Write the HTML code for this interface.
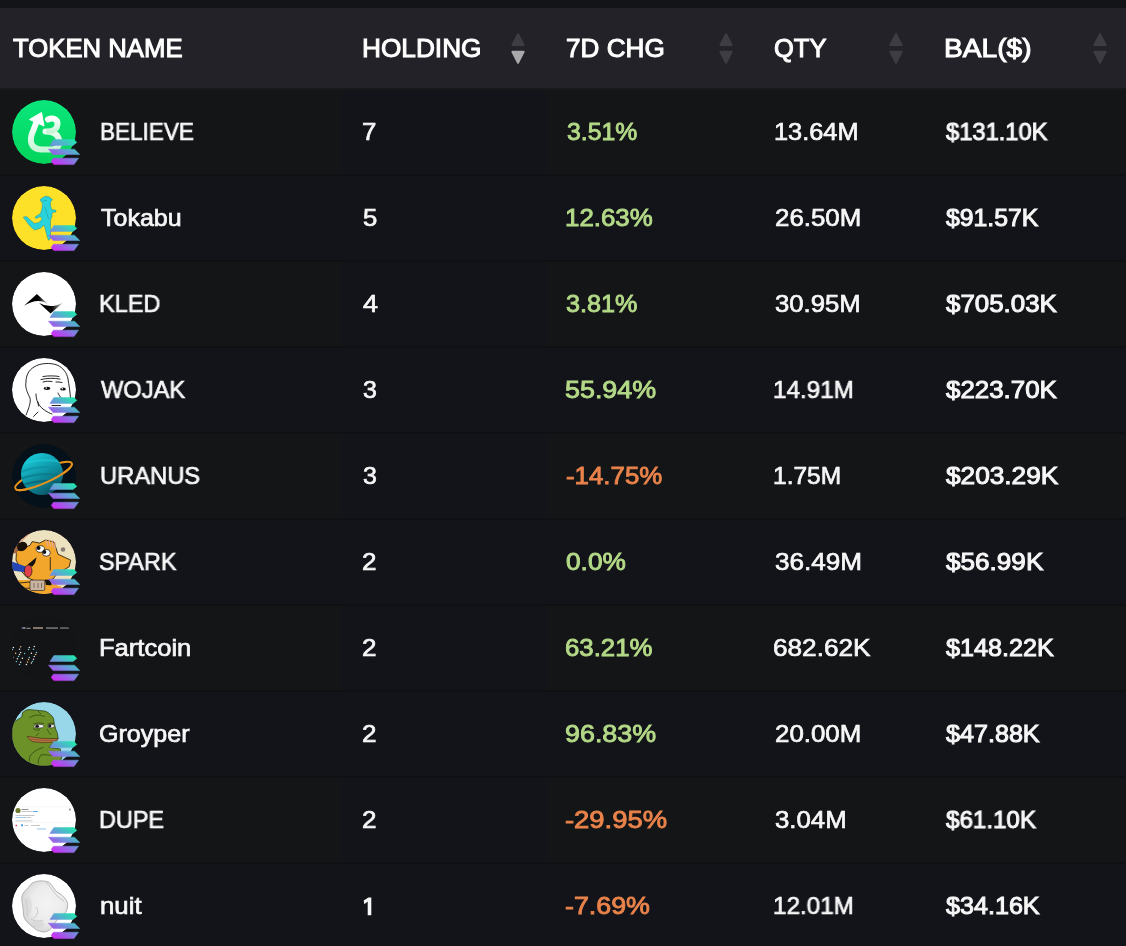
<!DOCTYPE html><html><head><meta charset="utf-8"><style>
html,body{margin:0;padding:0;}
body{width:1126px;height:946px;overflow:hidden;background:#131418;position:relative;font-family:"Liberation Sans",sans-serif;}
.hdr{position:absolute;left:0;top:8px;width:1126px;height:80px;background:#232228;}
.row{position:absolute;left:0;width:1126px;height:84px;border-top:2px solid #0f1013;background:#141517;}
.c2{position:absolute;left:342px;top:0;width:204px;height:84px;background:#131419;}
.c3{display:none;}
.t{position:absolute;white-space:nowrap;line-height:30px;transform-origin:0 0;will-change:transform;}
.ico{position:absolute;left:12px;width:72px;height:72px;overflow:visible;}
.sol{position:absolute;}
.sort{position:absolute;width:14px;}
</style></head><body>
<div class="hdr"></div>
<div class="t" style="left:12.77px;top:33.4px;font-size:25.5px;font-weight:400;color:#ffffff;transform:scaleX(1.0087);-webkit-text-stroke:1.0px #ffffff;" id="hTOKEN">TOKEN NAME</div>
<div class="t" style="left:361.93px;top:33.4px;font-size:25.5px;font-weight:400;color:#ffffff;transform:scaleX(1.0285);-webkit-text-stroke:1.0px #ffffff;" id="hHOLD">HOLDING</div>
<div class="t" style="left:566.45px;top:33.4px;font-size:25.5px;font-weight:400;color:#ffffff;transform:scaleX(1.0249);-webkit-text-stroke:1.0px #ffffff;" id="h7D">7D CHG</div>
<div class="t" style="left:774.0px;top:33.4px;font-size:25.5px;font-weight:400;color:#ffffff;transform:scaleX(0.9921);-webkit-text-stroke:1.0px #ffffff;" id="hQTY">QTY</div>
<div class="t" style="left:943.71px;top:33.4px;font-size:25.5px;font-weight:400;color:#ffffff;transform:scaleX(1.1038);-webkit-text-stroke:1.0px #ffffff;" id="hBAL">BAL($)</div>
<svg class="sort" style="left:511px;top:32px" width="14" height="34" viewBox="0 0 14 34"><path d="M7 2.2 L12.6 13 L1.4 13 Z" fill="#3e3d43" stroke="#3e3d43" stroke-width="2" stroke-linejoin="round"/><path d="M1.4 19.8 L12.6 19.8 L7 30.8 Z" fill="#a9a9ac" stroke="#a9a9ac" stroke-width="2" stroke-linejoin="round"/></svg>
<svg class="sort" style="left:719px;top:32px" width="14" height="34" viewBox="0 0 14 34"><path d="M7 2.2 L12.6 13 L1.4 13 Z" fill="#3e3d43" stroke="#3e3d43" stroke-width="2" stroke-linejoin="round"/><path d="M1.4 19.8 L12.6 19.8 L7 30.8 Z" fill="#3e3d43" stroke="#3e3d43" stroke-width="2" stroke-linejoin="round"/></svg>
<svg class="sort" style="left:889px;top:32px" width="14" height="34" viewBox="0 0 14 34"><path d="M7 2.2 L12.6 13 L1.4 13 Z" fill="#3e3d43" stroke="#3e3d43" stroke-width="2" stroke-linejoin="round"/><path d="M1.4 19.8 L12.6 19.8 L7 30.8 Z" fill="#3e3d43" stroke="#3e3d43" stroke-width="2" stroke-linejoin="round"/></svg>
<svg class="sort" style="left:1093px;top:32px" width="14" height="34" viewBox="0 0 14 34"><path d="M7 2.2 L12.6 13 L1.4 13 Z" fill="#3e3d43" stroke="#3e3d43" stroke-width="2" stroke-linejoin="round"/><path d="M1.4 19.8 L12.6 19.8 L7 30.8 Z" fill="#3e3d43" stroke="#3e3d43" stroke-width="2" stroke-linejoin="round"/></svg>
<div class="row" style="top:88px;background:#141517;border-top-color:#19191c"><div class="c2"></div></div>
<svg class="ico" style="top:100px" viewBox="0 0 72 72" width="72" height="72"><defs><clipPath id="cc0"><circle cx="32" cy="32" r="32"/></clipPath></defs><g clip-path="url(#cc0)"><circle cx="32" cy="32" r="32" fill="url(#gB)"/>
<defs><linearGradient id="gB" x1="0" y1="0" x2="0" y2="1"><stop offset="0" stop-color="#0ae67c"/><stop offset="1" stop-color="#03d45c"/></linearGradient>
<linearGradient id="gBw" x1="0" y1="0" x2="0" y2="1"><stop offset="0" stop-color="#ffffff"/><stop offset="1" stop-color="#c8f5d8"/></linearGradient></defs>
<g fill="none" stroke="url(#gBw)" stroke-width="6" stroke-linecap="round" stroke-linejoin="round">
<path d="M24.5 22 L19.5 35 C17 45 22 49.5 30 49.5 L40 49.5 C47 49.5 49 42 46 37 C44 33 40 31.5 33.5 31.5"/>
<path d="M36 19.5 C41 17 46 19.5 45.5 24.5 C45 29 41 31 37 31.5"/>
</g>
<path d="M29.5 12.5 L17.5 19.5 L32 26 Z" fill="#fff" stroke="#fff" stroke-width="1" stroke-linejoin="round"/></g><defs><linearGradient id="sg0" gradientUnits="userSpaceOnUse" x1="65" y1="42" x2="49.2" y2="68.3"><stop offset="0" stop-color="#22e6b0"/><stop offset="0.45" stop-color="#6a98dc"/><stop offset="0.75" stop-color="#a05ae8"/><stop offset="1" stop-color="#d02cf8"/></linearGradient></defs><g fill="url(#sg0)" stroke="url(#sg0)" stroke-width="0.5" stroke-linejoin="round"><path d="M41.9 39.6 L62.1 39.6 L64.8 42.5 L61 45.4 L37.9 45.4 Z"/><path d="M36.4 49.2 L62.5 49.2 L67.8 54.6 L41.1 54.6 Z"/><path d="M41.4 58.2 L66.5 58.2 L62 64.6 L41.9 64.6 L39.2 61.4 Z"/></g></svg>
<div class="t" style="left:100.42px;top:117.1px;font-size:24.5px;font-weight:400;color:#f7f7f8;transform:scaleX(0.9194);-webkit-text-stroke:0.7px #f7f7f8;" id="n0">BELIEVE</div>
<div class="t" style="left:362.46px;top:117.1px;font-size:24.5px;font-weight:400;color:#f7f7f8;transform:scaleX(1.0547);-webkit-text-stroke:0.7px #f7f7f8;" id="h0">7</div>
<div class="t" style="left:566.8px;top:117.1px;font-size:24.5px;font-weight:400;color:#b4da88;transform:scaleX(1.0107);-webkit-text-stroke:0.9px #b4da88;" id="c0">3.51%</div>
<div class="t" style="left:773.67px;top:117.1px;font-size:24.5px;font-weight:400;color:#f7f7f8;transform:scaleX(1.0352);-webkit-text-stroke:0.7px #f7f7f8;" id="q0">13.64M</div>
<div class="t" style="left:945.54px;top:117.1px;font-size:24.5px;font-weight:400;color:#f7f7f8;transform:scaleX(0.9670);-webkit-text-stroke:1.0px #f7f7f8;" id="b0">$131.10K</div>
<div class="row" style="top:174px;background:#131419;"></div>
<svg class="ico" style="top:186px" viewBox="0 0 72 72" width="72" height="72"><defs><clipPath id="cc1"><circle cx="32" cy="32" r="32"/></clipPath></defs><g clip-path="url(#cc1)"><circle cx="32" cy="32" r="32" fill="#fde028"/>
<path d="M33.5 10.2 L37 10.8 L40.5 13.5 L38.5 16 L38.5 19.5 L39.5 23.5 L43.9 24.3 L44 26 L40 26.5 L40 30 L38.5 34 L38.5 42 L38.7 52.5 L36.5 54.3 L35 50 L33 42 L32 39 L28 42.5 L22.5 44 L18 40 L13 33.5 L11.2 31.3 L14.3 30.4 L18 33.8 L22.5 37.5 L27.5 36.2 L30 33 L28.5 30.5 L24 32.5 L23 31 L28.5 27.5 L30 22.5 L30.5 17.5 L28 14 L30 12 Z" fill="#2ad3db" stroke="#1e8f96" stroke-width="0.5" stroke-linejoin="round"/>
<path d="M31 15 L35 14.5 M33 21 L36.5 33" stroke="#1e8f96" stroke-width="0.5" fill="none"/></g><defs><linearGradient id="sg1" gradientUnits="userSpaceOnUse" x1="65" y1="42" x2="49.2" y2="68.3"><stop offset="0" stop-color="#22e6b0"/><stop offset="0.45" stop-color="#6a98dc"/><stop offset="0.75" stop-color="#a05ae8"/><stop offset="1" stop-color="#d02cf8"/></linearGradient></defs><g fill="url(#sg1)" stroke="url(#sg1)" stroke-width="0.5" stroke-linejoin="round"><path d="M41.9 39.6 L62.1 39.6 L64.8 42.5 L61 45.4 L37.9 45.4 Z"/><path d="M36.4 49.2 L62.5 49.2 L67.8 54.6 L41.1 54.6 Z"/><path d="M41.4 58.2 L66.5 58.2 L62 64.6 L41.9 64.6 L39.2 61.4 Z"/></g></svg>
<div class="t" style="left:100.86px;top:203.1px;font-size:24.5px;font-weight:400;color:#f7f7f8;transform:scaleX(1.0203);-webkit-text-stroke:0.7px #f7f7f8;" id="n1">Tokabu</div>
<div class="t" style="left:362.5px;top:203.1px;font-size:24.5px;font-weight:400;color:#f7f7f8;transform:scaleX(1.0491);-webkit-text-stroke:0.7px #f7f7f8;" id="h1">5</div>
<div class="t" style="left:564.88px;top:203.1px;font-size:24.5px;font-weight:400;color:#b4da88;transform:scaleX(1.0555);-webkit-text-stroke:0.9px #b4da88;" id="c1">12.63%</div>
<div class="t" style="left:774.86px;top:203.1px;font-size:24.5px;font-weight:400;color:#f7f7f8;transform:scaleX(1.0554);-webkit-text-stroke:0.7px #f7f7f8;" id="q1">26.50M</div>
<div class="t" style="left:946.04px;top:203.1px;font-size:24.5px;font-weight:400;color:#f7f7f8;transform:scaleX(1.0105);-webkit-text-stroke:1.0px #f7f7f8;" id="b1">$91.57K</div>
<div class="row" style="top:260px;background:#141517;"><div class="c2"></div></div>
<svg class="ico" style="top:272px" viewBox="0 0 72 72" width="72" height="72"><defs><clipPath id="cc2"><circle cx="32" cy="32" r="32"/></clipPath></defs><g clip-path="url(#cc2)"><circle cx="32" cy="32" r="32" fill="#ffffff"/>
<defs><linearGradient id="gK1" gradientUnits="userSpaceOnUse" x1="25" y1="0" x2="37" y2="0"><stop offset="0" stop-color="#000"/><stop offset="0.25" stop-color="#111"/><stop offset="1" stop-color="#e0e0e0"/></linearGradient>
<linearGradient id="gK2" gradientUnits="userSpaceOnUse" x1="38" y1="0" x2="52" y2="0"><stop offset="0" stop-color="#000"/><stop offset="0.2" stop-color="#111"/><stop offset="1" stop-color="#e8e8e8"/></linearGradient></defs>
<path d="M12 33.8 L24.9 22 L36.4 32.4 Q26 25 12 33.8 Z" fill="url(#gK1)"/>
<path d="M27.1 31.1 L38.6 41.5 L51.5 30.2 Q39 37.5 27.1 31.1 Z" fill="url(#gK2)"/></g><defs><linearGradient id="sg2" gradientUnits="userSpaceOnUse" x1="65" y1="42" x2="49.2" y2="68.3"><stop offset="0" stop-color="#22e6b0"/><stop offset="0.45" stop-color="#6a98dc"/><stop offset="0.75" stop-color="#a05ae8"/><stop offset="1" stop-color="#d02cf8"/></linearGradient></defs><g fill="url(#sg2)" stroke="url(#sg2)" stroke-width="0.5" stroke-linejoin="round"><path d="M41.9 39.6 L62.1 39.6 L64.8 42.5 L61 45.4 L37.9 45.4 Z"/><path d="M36.4 49.2 L62.5 49.2 L67.8 54.6 L41.1 54.6 Z"/><path d="M41.4 58.2 L66.5 58.2 L62 64.6 L41.9 64.6 L39.2 61.4 Z"/></g></svg>
<div class="t" style="left:99.35px;top:289.1px;font-size:24.5px;font-weight:400;color:#f7f7f8;transform:scaleX(0.9594);-webkit-text-stroke:0.7px #f7f7f8;" id="n2">KLED</div>
<div class="t" style="left:362.64px;top:289.1px;font-size:24.5px;font-weight:400;color:#f7f7f8;transform:scaleX(1.1009);-webkit-text-stroke:0.7px #f7f7f8;" id="h2">4</div>
<div class="t" style="left:565.79px;top:289.1px;font-size:24.5px;font-weight:400;color:#b4da88;transform:scaleX(1.0269);-webkit-text-stroke:0.9px #b4da88;" id="c2">3.81%</div>
<div class="t" style="left:775.4px;top:289.1px;font-size:24.5px;font-weight:400;color:#f7f7f8;transform:scaleX(1.0486);-webkit-text-stroke:0.7px #f7f7f8;" id="q2">30.95M</div>
<div class="t" style="left:946.04px;top:289.1px;font-size:24.5px;font-weight:400;color:#f7f7f8;transform:scaleX(1.0568);-webkit-text-stroke:1.0px #f7f7f8;" id="b2">$705.03K</div>
<div class="row" style="top:346px;background:#131419;"></div>
<svg class="ico" style="top:358px" viewBox="0 0 72 72" width="72" height="72"><defs><clipPath id="cc3"><circle cx="32" cy="32" r="32"/></clipPath></defs><g clip-path="url(#cc3)"><circle cx="32" cy="32" r="32" fill="#ffffff"/>
<g fill="none" stroke="#111" stroke-width="0.9" stroke-linecap="round">
<path d="M14 57 C17 50 19 44 18 40 C15 34 13 29 14 24 C14 17 17 12 22 9 C28 5 38 4.5 45 7 C51 9.5 55 15 56 21 C57 27 58 33 58.5 40"/>
<path d="M24 36 C24 42 26 47 31 51 C35 54 38 55.5 40 56"/>
<path d="M29 21.5 C35 20 42 20 48 21"/><path d="M31 18.5 C37 17.5 43 17.8 47 18.5"/><path d="M31 24 C34 23 37 23.2 40 23.5"/><path d="M44 24 C46 23.8 48 24 50 24.5"/>
<path d="M46 35 C47 37 48 39 49.5 40"/><path d="M40 47.5 L48.5 47.5"/>
<path d="M21.5 58.5 L26 54"/><path d="M26 44 L26.5 48"/>
</g>
<ellipse cx="35" cy="30.3" rx="3.3" ry="1.6" fill="#111"/><ellipse cx="51" cy="31" rx="2.8" ry="1.5" fill="#111"/>
<circle cx="34.2" cy="30" r="0.8" fill="#fff"/><circle cx="50.3" cy="30.8" r="0.7" fill="#fff"/></g><defs><linearGradient id="sg3" gradientUnits="userSpaceOnUse" x1="65" y1="42" x2="49.2" y2="68.3"><stop offset="0" stop-color="#22e6b0"/><stop offset="0.45" stop-color="#6a98dc"/><stop offset="0.75" stop-color="#a05ae8"/><stop offset="1" stop-color="#d02cf8"/></linearGradient></defs><g fill="url(#sg3)" stroke="url(#sg3)" stroke-width="0.5" stroke-linejoin="round"><path d="M41.9 39.6 L62.1 39.6 L64.8 42.5 L61 45.4 L37.9 45.4 Z"/><path d="M36.4 49.2 L62.5 49.2 L67.8 54.6 L41.1 54.6 Z"/><path d="M41.4 58.2 L66.5 58.2 L62 64.6 L41.9 64.6 L39.2 61.4 Z"/></g></svg>
<div class="t" style="left:100.83px;top:375.1px;font-size:24.5px;font-weight:400;color:#f7f7f8;transform:scaleX(0.9663);-webkit-text-stroke:0.7px #f7f7f8;" id="n3">WOJAK</div>
<div class="t" style="left:363.02px;top:375.1px;font-size:24.5px;font-weight:400;color:#f7f7f8;transform:scaleX(1.0177);-webkit-text-stroke:0.7px #f7f7f8;" id="h3">3</div>
<div class="t" style="left:565.07px;top:375.1px;font-size:24.5px;font-weight:400;color:#b4da88;transform:scaleX(1.0968);-webkit-text-stroke:0.9px #b4da88;" id="c3">55.94%</div>
<div class="t" style="left:773.23px;top:375.1px;font-size:24.5px;font-weight:400;color:#f7f7f8;transform:scaleX(0.9894);-webkit-text-stroke:0.7px #f7f7f8;" id="q3">14.91M</div>
<div class="t" style="left:946.04px;top:375.1px;font-size:24.5px;font-weight:400;color:#f7f7f8;transform:scaleX(1.0568);-webkit-text-stroke:1.0px #f7f7f8;" id="b3">$223.70K</div>
<div class="row" style="top:432px;background:#141517;"><div class="c2"></div></div>
<svg class="ico" style="top:444px" viewBox="0 0 72 72" width="72" height="72"><defs><clipPath id="cc4"><circle cx="32" cy="32" r="32"/></clipPath></defs><g clip-path="url(#cc4)"><defs><linearGradient id="gU" x1="0.2" y1="0.1" x2="0.75" y2="0.95"><stop offset="0" stop-color="#19c6d4"/><stop offset="0.45" stop-color="#1099aa"/><stop offset="1" stop-color="#0a5464"/></linearGradient><clipPath id="cU"><circle cx="30" cy="30" r="21"/></clipPath></defs>
<circle cx="32" cy="32" r="32" fill="#04111a"/>
<g transform="rotate(-24 31.5 32)"><ellipse cx="31.5" cy="32" rx="31" ry="7" fill="none" stroke="#e8921e" stroke-width="2"/></g>
<circle cx="30" cy="30" r="21" fill="url(#gU)"/>
<g clip-path="url(#cU)" fill="none" stroke-width="2.2">
<path d="M6 22 Q28 12 54 19" stroke="#22d0dc" opacity="0.5"/>
<path d="M6 29 Q28 19 54 26" stroke="#0c8ea0" opacity="0.6"/>
<path d="M6 36 Q28 26 54 33" stroke="#0a7586" opacity="0.6"/>
<path d="M6 43 Q28 33 54 40" stroke="#075868" opacity="0.6"/>
</g>
<g transform="rotate(-24 31.5 32)"><path d="M0.5 32 A31 7 0 0 0 62.5 32" fill="none" stroke="#e8921e" stroke-width="2"/></g></g><defs><linearGradient id="sg4" gradientUnits="userSpaceOnUse" x1="65" y1="42" x2="49.2" y2="68.3"><stop offset="0" stop-color="#22e6b0"/><stop offset="0.45" stop-color="#6a98dc"/><stop offset="0.75" stop-color="#a05ae8"/><stop offset="1" stop-color="#d02cf8"/></linearGradient></defs><g fill="url(#sg4)" stroke="url(#sg4)" stroke-width="0.5" stroke-linejoin="round"><path d="M41.9 39.6 L62.1 39.6 L64.8 42.5 L61 45.4 L37.9 45.4 Z"/><path d="M36.4 49.2 L62.5 49.2 L67.8 54.6 L41.1 54.6 Z"/><path d="M41.4 58.2 L66.5 58.2 L62 64.6 L41.9 64.6 L39.2 61.4 Z"/></g></svg>
<div class="t" style="left:99.53px;top:461.1px;font-size:24.5px;font-weight:400;color:#f7f7f8;transform:scaleX(0.9683);-webkit-text-stroke:0.7px #f7f7f8;" id="n4">URANUS</div>
<div class="t" style="left:363.02px;top:461.1px;font-size:24.5px;font-weight:400;color:#f7f7f8;transform:scaleX(1.0177);-webkit-text-stroke:0.7px #f7f7f8;" id="h4">3</div>
<div class="t" style="left:566.3px;top:461.1px;font-size:24.5px;font-weight:400;color:#e9834b;transform:scaleX(1.0544);-webkit-text-stroke:0.9px #e9834b;" id="c4">-14.75%</div>
<div class="t" style="left:773.23px;top:461.1px;font-size:24.5px;font-weight:400;color:#f7f7f8;transform:scaleX(0.9946);-webkit-text-stroke:0.7px #f7f7f8;" id="q4">1.75M</div>
<div class="t" style="left:946.04px;top:461.1px;font-size:24.5px;font-weight:400;color:#f7f7f8;transform:scaleX(1.0701);-webkit-text-stroke:1.0px #f7f7f8;" id="b4">$203.29K</div>
<div class="row" style="top:518px;background:#131419;"></div>
<svg class="ico" style="top:530px" viewBox="0 0 72 72" width="72" height="72"><defs><clipPath id="cc5"><circle cx="32" cy="32" r="32"/></clipPath></defs><g clip-path="url(#cc5)"><circle cx="32" cy="32" r="32" fill="#ece2bf"/>
<path d="M0 50 L12 50 L22 50 L34 51 L42 54 L52 58 L44 64 L0 64 Z" fill="#f2a62b"/>
<path d="M0 56 L6 58 L8 64 L0 64 Z" fill="#ece2bf"/>
<path d="M4.5 21.2 L18 15.3 L20.2 11.6 L27.6 13.1 L33.5 10 L42 12 L46 24.2 L58.7 30.1 L57.2 36.8 L45.4 43.4 L41 49 L34 51 L22 50.5 L15 47.5 L10 42 L7 36 L4 30 Z" fill="#f2a62b" stroke="#1a1208" stroke-width="0.8" stroke-linejoin="round"/>
<path d="M0 31.6 L15 37 L14.5 42.5 L0 40.5 Z" fill="#2447b5"/>
<ellipse cx="9.8" cy="16.4" rx="5.6" ry="4.6" transform="rotate(-20 9.8 16.4)" fill="#1a1208"/>
<path d="M1.2 17 L5.4 16.5 L5 23.5 L1.5 23 Z" fill="#a8643a"/>
<path d="M7.6 12.4 L16.5 4.2" stroke="#e0a080" stroke-width="1.3"/>
<path d="M15.8 34.6 L24.6 27.2 L23 33 L20.2 36.8 Z" fill="#111"/>
<ellipse cx="16.2" cy="41" rx="3.8" ry="6" fill="#e0404a" stroke="#111" stroke-width="0.6"/>
<ellipse cx="28.3" cy="19" rx="4.2" ry="3.3" fill="#fff" stroke="#111" stroke-width="0.7"/><circle cx="26.6" cy="18" r="1.9" fill="#111"/>
<ellipse cx="34.3" cy="22.8" rx="4" ry="3.4" fill="#fff" stroke="#111" stroke-width="0.7"/><circle cx="32.4" cy="22" r="1.9" fill="#111"/>
<path d="M38.3 27.2 L38.3 40.5" stroke="#111" stroke-width="0.8"/>
<path d="M34 10 L36 16 M37 9.5 L38.5 16.5 M40 10 L41 17 M43 12 L43 19" stroke="#e4aa94" stroke-width="1.2"/>
<rect x="18" y="50.1" width="14.8" height="10.4" rx="1.5" fill="#c8b4a0" stroke="#111" stroke-width="0.6"/>
<path d="M22 53 L22 58 M26 53 L26 58 M29.5 53 L29.5 58" stroke="#6a5a50" stroke-width="0.8"/>
<path d="M32.8 49.4 L39.5 50 L39.5 55.3 L34 55 Z" fill="#111"/>
<path d="M7 53 L18 52 M6 59 L18 58" stroke="#111" stroke-width="0.8"/>
<circle cx="51" cy="19.5" r="2.3" fill="#8a7e74"/></g><defs><linearGradient id="sg5" gradientUnits="userSpaceOnUse" x1="65" y1="42" x2="49.2" y2="68.3"><stop offset="0" stop-color="#22e6b0"/><stop offset="0.45" stop-color="#6a98dc"/><stop offset="0.75" stop-color="#a05ae8"/><stop offset="1" stop-color="#d02cf8"/></linearGradient></defs><g fill="url(#sg5)" stroke="url(#sg5)" stroke-width="0.5" stroke-linejoin="round"><path d="M41.9 39.6 L62.1 39.6 L64.8 42.5 L61 45.4 L37.9 45.4 Z"/><path d="M36.4 49.2 L62.5 49.2 L67.8 54.6 L41.1 54.6 Z"/><path d="M41.4 58.2 L66.5 58.2 L62 64.6 L41.9 64.6 L39.2 61.4 Z"/></g></svg>
<div class="t" style="left:99.24px;top:547.1px;font-size:24.5px;font-weight:400;color:#f7f7f8;transform:scaleX(0.9521);-webkit-text-stroke:0.7px #f7f7f8;" id="n5">SPARK</div>
<div class="t" style="left:362.45px;top:547.1px;font-size:24.5px;font-weight:400;color:#f7f7f8;transform:scaleX(1.0632);-webkit-text-stroke:0.7px #f7f7f8;" id="h5">2</div>
<div class="t" style="left:565.78px;top:547.1px;font-size:24.5px;font-weight:400;color:#b4da88;transform:scaleX(1.0712);-webkit-text-stroke:0.9px #b4da88;" id="c5">0.0%</div>
<div class="t" style="left:775.39px;top:547.1px;font-size:24.5px;font-weight:400;color:#f7f7f8;transform:scaleX(1.0662);-webkit-text-stroke:0.7px #f7f7f8;" id="q5">36.49M</div>
<div class="t" style="left:946.04px;top:547.1px;font-size:24.5px;font-weight:400;color:#f7f7f8;transform:scaleX(1.0663);-webkit-text-stroke:1.0px #f7f7f8;" id="b5">$56.99K</div>
<div class="row" style="top:604px;background:#141517;"><div class="c2"></div></div>
<svg class="ico" style="top:616px" viewBox="0 0 72 72" width="72" height="72"><defs><clipPath id="cc6"><circle cx="32" cy="32" r="32"/></clipPath></defs><g clip-path="url(#cc6)"><circle cx="32" cy="32" r="32" fill="#131416"/>
<g opacity="0.75"><rect x="9" y="11.5" width="1" height="1.2" fill="#3060e0"/><rect x="10.5" y="11.3" width="3" height="1.4" fill="#ddd"/><rect x="14.5" y="11.8" width="4" height="1" fill="#ccd"/><rect x="21" y="11.3" width="10" height="1.4" fill="#e8d0b0"/><rect x="34" y="11.5" width="12" height="1.1" fill="#ccc"/><rect x="48" y="11.5" width="9" height="1.1" fill="#bbb"/></g>
<circle cx="1.4" cy="31.4" r="0.75" fill="#e8f0f0"/><circle cx="0.4" cy="33.5" r="0.75" fill="#7fd0e8"/><circle cx="8.6" cy="30.8" r="0.75" fill="#f0c070"/><circle cx="7.5" cy="33.2" r="0.75" fill="#dfe6ff"/><circle cx="17.3" cy="31.4" r="0.75" fill="#e8e8d0"/><circle cx="16.5" cy="33.5" r="0.75" fill="#60c8e0"/><circle cx="22.3" cy="30.6" r="0.75" fill="#e8f0f0"/><circle cx="21.5" cy="33.2" r="0.75" fill="#7fd0e8"/><circle cx="3.6" cy="37.2" r="0.75" fill="#f0c070"/><circle cx="8.6" cy="36.4" r="0.75" fill="#dfe6ff"/><circle cx="7.5" cy="38.5" r="0.75" fill="#e8e8d0"/><circle cx="12.6" cy="37.4" r="0.75" fill="#60c8e0"/><circle cx="19.4" cy="37.2" r="0.75" fill="#e8f0f0"/><circle cx="24.5" cy="36.4" r="0.75" fill="#7fd0e8"/><circle cx="23.7" cy="38.5" r="0.75" fill="#f0c070"/><circle cx="1.4" cy="41.4" r="0.75" fill="#dfe6ff"/><circle cx="5.4" cy="42.7" r="0.75" fill="#e8e8d0"/><circle cx="6.5" cy="40.6" r="0.75" fill="#60c8e0"/><circle cx="10.4" cy="42.2" r="0.75" fill="#e8f0f0"/><circle cx="17.3" cy="41.4" r="0.75" fill="#7fd0e8"/><circle cx="16.5" cy="43.5" r="0.75" fill="#f0c070"/><circle cx="22.3" cy="40.6" r="0.75" fill="#dfe6ff"/><circle cx="21.5" cy="43.3" r="0.75" fill="#e8e8d0"/><circle cx="4.3" cy="45.4" r="0.75" fill="#60c8e0"/><circle cx="8.6" cy="46.2" r="0.75" fill="#e8f0f0"/><circle cx="7.5" cy="48.6" r="0.75" fill="#7fd0e8"/><circle cx="15.5" cy="45.9" r="0.75" fill="#f0c070"/><circle cx="14.4" cy="48.6" r="0.75" fill="#dfe6ff"/><circle cx="19.4" cy="47" r="0.75" fill="#e8e8d0"/><circle cx="20.5" cy="45.4" r="0.75" fill="#60c8e0"/></g><defs><linearGradient id="sg6" gradientUnits="userSpaceOnUse" x1="65" y1="42" x2="49.2" y2="68.3"><stop offset="0" stop-color="#22e6b0"/><stop offset="0.45" stop-color="#6a98dc"/><stop offset="0.75" stop-color="#a05ae8"/><stop offset="1" stop-color="#d02cf8"/></linearGradient></defs><g fill="url(#sg6)" stroke="url(#sg6)" stroke-width="0.5" stroke-linejoin="round"><path d="M41.9 39.6 L62.1 39.6 L64.8 42.5 L61 45.4 L37.9 45.4 Z"/><path d="M36.4 49.2 L62.5 49.2 L67.8 54.6 L41.1 54.6 Z"/><path d="M41.4 58.2 L66.5 58.2 L62 64.6 L41.9 64.6 L39.2 61.4 Z"/></g></svg>
<div class="t" style="left:99.22px;top:633.1px;font-size:24.5px;font-weight:400;color:#f7f7f8;transform:scaleX(1.0426);-webkit-text-stroke:0.7px #f7f7f8;" id="n6">Fartcoin</div>
<div class="t" style="left:362.45px;top:633.1px;font-size:24.5px;font-weight:400;color:#f7f7f8;transform:scaleX(1.0632);-webkit-text-stroke:0.7px #f7f7f8;" id="h6">2</div>
<div class="t" style="left:565.1px;top:633.1px;font-size:24.5px;font-weight:400;color:#b4da88;transform:scaleX(1.0528);-webkit-text-stroke:0.9px #b4da88;" id="c6">63.21%</div>
<div class="t" style="left:773.42px;top:633.1px;font-size:24.5px;font-weight:400;color:#f7f7f8;transform:scaleX(1.0686);-webkit-text-stroke:0.7px #f7f7f8;" id="q6">682.62K</div>
<div class="t" style="left:946.04px;top:633.1px;font-size:24.5px;font-weight:400;color:#f7f7f8;transform:scaleX(1.0262);-webkit-text-stroke:1.0px #f7f7f8;" id="b6">$148.22K</div>
<div class="row" style="top:690px;background:#131419;"></div>
<svg class="ico" style="top:702px" viewBox="0 0 72 72" width="72" height="72"><defs><clipPath id="cc7"><circle cx="32" cy="32" r="32"/></clipPath></defs><g clip-path="url(#cc7)"><circle cx="32" cy="32" r="32" fill="#98d6e9"/>
<path d="M0 21 L1.7 20.2 L9.8 15 L10.6 10.6 C13 8.5 15 7.6 17.2 7.6 L26.1 8.4 L32.8 9.1 C35.5 10 37.5 11.5 38.7 12.8 C40.5 14.5 41.5 16 41.7 17.2 L42.4 22.4 L43.9 27.6 L45.4 31.3 L46.1 36.5 L43.9 39.5 L39.5 42.4 L37.2 45.4 L48.3 46.9 L49.8 55.7 L46.1 64 L0 64 Z" fill="#6b9128" stroke="#26340c" stroke-width="0.7" stroke-linejoin="round"/>
<path d="M15 34.3 Q30 37.5 46.1 36.5 Q45 39.5 42.4 40.2 Q30 41.5 20.2 39.5 Q16.5 37 15 34.3 Z" fill="#b87440" stroke="#3a2a10" stroke-width="0.6"/>
<path d="M18 37 Q30 39 44 38.3" stroke="#6a4020" stroke-width="0.5" fill="none"/>
<ellipse cx="26.8" cy="24.2" rx="5" ry="1.9" fill="#f2f2f2" stroke="#222" stroke-width="0.6"/><ellipse cx="39.1" cy="24.1" rx="3.4" ry="1.8" fill="#f2f2f2" stroke="#222" stroke-width="0.6"/>
<ellipse cx="25.2" cy="24.3" rx="1.8" ry="1.5" fill="#1a1a1a"/><ellipse cx="37.8" cy="24" rx="1.6" ry="1.4" fill="#1a1a1a"/>
<g fill="none" stroke="#26340c" stroke-width="0.6">
<path d="M21.5 22 Q26 20 32 21.5"/><path d="M35.5 22 Q39 20.5 42 21.5"/>
<path d="M17.2 15.8 Q24 11 32.8 14.5"/><path d="M26 9 Q28 11 29 12"/>
<path d="M21 26.5 Q24 29 28 28"/><path d="M35 27 Q37 31 39 33"/><path d="M27 31 Q25 33 24 34"/>
<path d="M17.2 59.4 Q17 54 20.2 51.3 Q25 47 31.3 45.4"/>
<path d="M26.1 62 Q26 56 29.1 52.8 Q34 52.5 39.5 53.5"/>
</g></g><defs><linearGradient id="sg7" gradientUnits="userSpaceOnUse" x1="65" y1="42" x2="49.2" y2="68.3"><stop offset="0" stop-color="#22e6b0"/><stop offset="0.45" stop-color="#6a98dc"/><stop offset="0.75" stop-color="#a05ae8"/><stop offset="1" stop-color="#d02cf8"/></linearGradient></defs><g fill="url(#sg7)" stroke="url(#sg7)" stroke-width="0.5" stroke-linejoin="round"><path d="M41.9 39.6 L62.1 39.6 L64.8 42.5 L61 45.4 L37.9 45.4 Z"/><path d="M36.4 49.2 L62.5 49.2 L67.8 54.6 L41.1 54.6 Z"/><path d="M41.4 58.2 L66.5 58.2 L62 64.6 L41.9 64.6 L39.2 61.4 Z"/></g></svg>
<div class="t" style="left:99.18px;top:719.1px;font-size:24.5px;font-weight:400;color:#f7f7f8;transform:scaleX(1.0229);-webkit-text-stroke:0.7px #f7f7f8;" id="n7">Groyper</div>
<div class="t" style="left:362.45px;top:719.1px;font-size:24.5px;font-weight:400;color:#f7f7f8;transform:scaleX(1.0632);-webkit-text-stroke:0.7px #f7f7f8;" id="h7">2</div>
<div class="t" style="left:565.08px;top:719.1px;font-size:24.5px;font-weight:400;color:#b4da88;transform:scaleX(1.0967);-webkit-text-stroke:0.9px #b4da88;" id="c7">96.83%</div>
<div class="t" style="left:774.86px;top:719.1px;font-size:24.5px;font-weight:400;color:#f7f7f8;transform:scaleX(1.0554);-webkit-text-stroke:0.7px #f7f7f8;" id="q7">20.00M</div>
<div class="t" style="left:946.04px;top:719.1px;font-size:24.5px;font-weight:400;color:#f7f7f8;transform:scaleX(1.0258);-webkit-text-stroke:1.0px #f7f7f8;" id="b7">$47.88K</div>
<div class="row" style="top:776px;background:#141517;"><div class="c2"></div></div>
<svg class="ico" style="top:788px" viewBox="0 0 72 72" width="72" height="72"><defs><clipPath id="cc8"><circle cx="32" cy="32" r="32"/></clipPath></defs><g clip-path="url(#cc8)"><circle cx="32" cy="32" r="32" fill="#ffffff"/>
<line x1="3" y1="18.8" x2="61" y2="18.8" stroke="#eee" stroke-width="0.5"/>
<circle cx="6" cy="22.5" r="2.6" fill="#6a7a2a"/>
<rect x="9.5" y="21" width="7" height="0.9" fill="#888"/><rect x="9.5" y="23" width="11" height="0.8" fill="#bbb"/><rect x="21" y="23" width="5" height="0.9" fill="#4aa3e0"/>
<rect x="3.5" y="27" width="19" height="0.8" fill="#bbb"/><rect x="3.5" y="29.2" width="11" height="0.8" fill="#8ac0ea"/><rect x="15" y="29.2" width="4" height="0.8" fill="#bbb"/>
<rect x="3.5" y="32.5" width="17" height="0.8" fill="#bbb"/>
<line x1="3" y1="34.5" x2="61" y2="34.5" stroke="#eee" stroke-width="0.5"/>
<rect x="3.5" y="36.8" width="1.6" height="1.4" fill="#e0306a"/><rect x="9" y="36.3" width="2" height="2" fill="#4aa3e0"/><rect x="12.5" y="37" width="4" height="0.8" fill="#bbb"/><rect x="19" y="37" width="9" height="0.8" fill="#bbb"/>
<rect x="25" y="40.5" width="9" height="0.9" fill="#8ac0ea"/>
<rect x="57" y="20.5" width="1.8" height="2" fill="#999"/></g><defs><linearGradient id="sg8" gradientUnits="userSpaceOnUse" x1="65" y1="42" x2="49.2" y2="68.3"><stop offset="0" stop-color="#22e6b0"/><stop offset="0.45" stop-color="#6a98dc"/><stop offset="0.75" stop-color="#a05ae8"/><stop offset="1" stop-color="#d02cf8"/></linearGradient></defs><g fill="url(#sg8)" stroke="url(#sg8)" stroke-width="0.5" stroke-linejoin="round"><path d="M41.9 39.6 L62.1 39.6 L64.8 42.5 L61 45.4 L37.9 45.4 Z"/><path d="M36.4 49.2 L62.5 49.2 L67.8 54.6 L41.1 54.6 Z"/><path d="M41.4 58.2 L66.5 58.2 L62 64.6 L41.9 64.6 L39.2 61.4 Z"/></g></svg>
<div class="t" style="left:99.36px;top:805.1px;font-size:24.5px;font-weight:400;color:#f7f7f8;transform:scaleX(0.9538);-webkit-text-stroke:0.7px #f7f7f8;" id="n8">DUPE</div>
<div class="t" style="left:362.45px;top:805.1px;font-size:24.5px;font-weight:400;color:#f7f7f8;transform:scaleX(1.0632);-webkit-text-stroke:0.7px #f7f7f8;" id="h8">2</div>
<div class="t" style="left:564.91px;top:805.1px;font-size:24.5px;font-weight:400;color:#e9834b;transform:scaleX(1.1182);-webkit-text-stroke:0.9px #e9834b;" id="c8">-29.95%</div>
<div class="t" style="left:775.4px;top:805.1px;font-size:24.5px;font-weight:400;color:#f7f7f8;transform:scaleX(1.0520);-webkit-text-stroke:0.7px #f7f7f8;" id="q8">3.04M</div>
<div class="t" style="left:946.04px;top:805.1px;font-size:24.5px;font-weight:400;color:#f7f7f8;transform:scaleX(0.9854);-webkit-text-stroke:1.0px #f7f7f8;" id="b8">$61.10K</div>
<div class="row" style="top:862px;background:#131419;"></div>
<svg class="ico" style="top:874px" viewBox="0 0 72 72" width="72" height="72"><defs><clipPath id="cc9"><circle cx="32" cy="32" r="32"/></clipPath></defs><g clip-path="url(#cc9)"><defs><radialGradient id="gN" cx="0.55" cy="0.45" r="0.6"><stop offset="0" stop-color="#f4f4f4"/><stop offset="0.6" stop-color="#ebebeb"/><stop offset="1" stop-color="#d4d4d4"/></radialGradient></defs>
<circle cx="32" cy="32" r="32" fill="#ffffff"/>
<path d="M29.1 6.9 C33 7 36 7.5 38 9.1 C41 12 42 15 43.9 17.2 C47 19.5 50 20.5 52 23.2 C54.5 26 56 28.5 55.7 31.3 C55.5 35 54.5 37.5 52.8 39.5 C50 42 47.5 43 45.4 45.4 C43 48.5 41.5 52 39.4 54.3 C36.5 57 34 58.2 31.3 58 C28 57.8 25 56.5 22.4 54.3 C19 51.5 15.5 49 13.5 46.1 C11.5 43 11.2 40 11.3 36.5 C11 32 9.5 27 9.8 23.2 C10.5 19 13.5 16 16.5 13.5 C18 11.5 19 10 20.2 9.1 C23 7.5 26 6.9 29.1 6.9 Z" fill="url(#gN)" stroke="#9a9a9a" stroke-width="0.7"/>
<g fill="none" stroke="#b8b8b8" stroke-width="0.9" opacity="0.8"><path d="M34 8 C38 12 42 19 45 22 C48 24 50 26 52 27"/><path d="M13 25 C15 30 16 36 15 42"/><path d="M24 33 C27 36 26 41 22 44"/><path d="M19 45 C23 47 27 48 31 46"/></g>
<g fill="#d6d6d6" opacity="0.6"><ellipse cx="16" cy="32" rx="4" ry="9"/><ellipse cx="26" cy="50" rx="6" ry="4"/></g></g><defs><linearGradient id="sg9" gradientUnits="userSpaceOnUse" x1="65" y1="42" x2="49.2" y2="68.3"><stop offset="0" stop-color="#22e6b0"/><stop offset="0.45" stop-color="#6a98dc"/><stop offset="0.75" stop-color="#a05ae8"/><stop offset="1" stop-color="#d02cf8"/></linearGradient></defs><g fill="url(#sg9)" stroke="url(#sg9)" stroke-width="0.5" stroke-linejoin="round"><path d="M41.9 39.6 L62.1 39.6 L64.8 42.5 L61 45.4 L37.9 45.4 Z"/><path d="M36.4 49.2 L62.5 49.2 L67.8 54.6 L41.1 54.6 Z"/><path d="M41.4 58.2 L66.5 58.2 L62 64.6 L41.9 64.6 L39.2 61.4 Z"/></g></svg>
<div class="t" style="left:99.66px;top:891.1px;font-size:24.5px;font-weight:400;color:#f7f7f8;transform:scaleX(1.0534);-webkit-text-stroke:0.7px #f7f7f8;" id="n9">nuit</div>
<svg style="position:absolute;left:363px;top:897px" width="10" height="20" viewBox="0 0 10 20"><path d="M8.3 0.4 L8.3 18.2 L4.7 18.2 L4.7 4.6 L1.3 7.2 L0.7 3.6 L5.4 0.4 Z" fill="#f7f7f8"/></svg>
<div class="t" style="left:564.95px;top:891.1px;font-size:24.5px;font-weight:400;color:#e9834b;transform:scaleX(1.0944);-webkit-text-stroke:0.9px #e9834b;" id="c9">-7.69%</div>
<div class="t" style="left:773.23px;top:891.1px;font-size:24.5px;font-weight:400;color:#f7f7f8;transform:scaleX(0.9894);-webkit-text-stroke:0.7px #f7f7f8;" id="q9">12.01M</div>
<div class="t" style="left:946.04px;top:891.1px;font-size:24.5px;font-weight:400;color:#f7f7f8;transform:scaleX(1.0258);-webkit-text-stroke:1.0px #f7f7f8;" id="b9">$34.16K</div>
</body></html>
